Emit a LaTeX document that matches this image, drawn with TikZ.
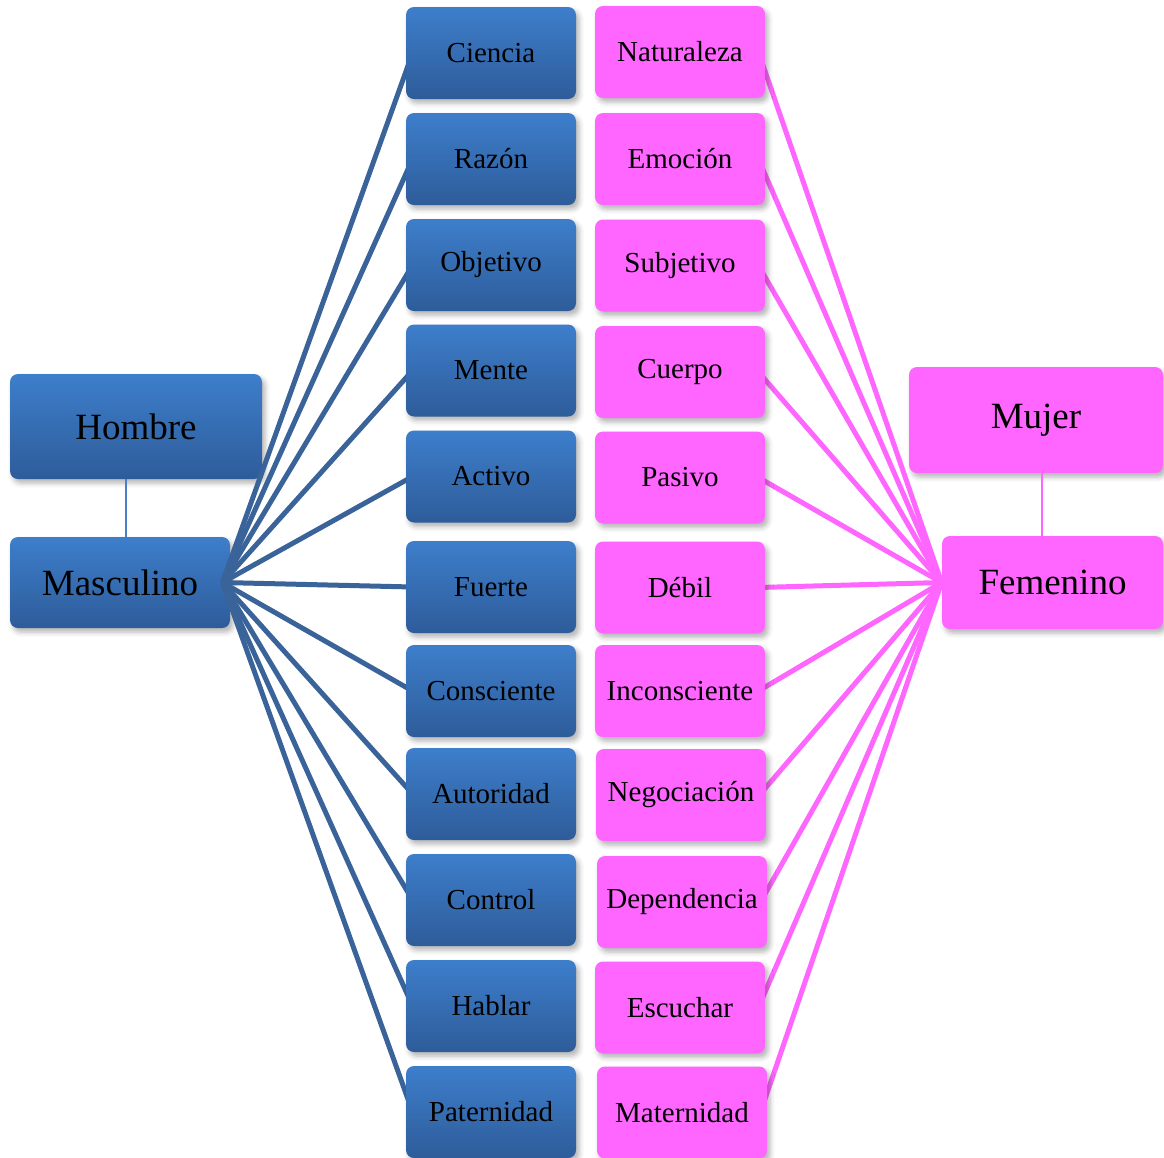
\documentclass[tikz,border=0pt]{standalone}
\usepackage{fontspec}
\setmainfont{Liberation Serif}
\usetikzlibrary{shadows.blur}
\definecolor{blueTop}{RGB}{61,126,203}
\definecolor{blueBot}{RGB}{46,92,154}
\definecolor{blueLine}{RGB}{58,100,153}
\definecolor{blueThin}{RGB}{74,126,198}
\definecolor{pinkBox}{RGB}{255,102,255}
\pgfdeclarelayer{front}
\pgfsetlayers{main,front}

\begin{document}
\begin{tikzpicture}[x=0.5pt,y=-0.5pt,
  box/.style={rounded corners=4pt,inner sep=0pt,text=black,
    blur shadow={shadow xshift=1.5pt,shadow yshift=-2pt,shadow blur radius=2.5pt,shadow opacity=30}},
  bluebox/.style={box,top color=blueTop,bottom color=blueBot},
  pinkbox/.style={box,fill=pinkBox},
  item/.style={minimum width=85pt,minimum height=46pt,font=\fontsize{14.5}{17}\selectfont},
  hub/.style={font=\fontsize{18.5}{22}\selectfont},
  blueline/.style={draw=blueLine,line width=2.5pt},
  pinkline/.style={draw=pinkBox,line width=2.5pt}]
\useasboundingbox (0,0) rectangle (1164,1158);
% left side
\node[bluebox,hub,minimum width=126pt,minimum height=52.5pt] (hombre) at (136,426.5) {Hombre};
\node[bluebox,hub,minimum width=110pt,minimum height=45.5pt] (masculino) at (120,582.5) {Masculino};
\draw[blueThin,line width=1pt] ([xshift=-5pt]hombre.south) -- ([xshift=-5pt]hombre.south |- masculino.north);
% right side
\node[pinkbox,hub,minimum width=127pt,minimum height=53pt] (mujer) at (1036,420) {Mujer};
\node[pinkbox,hub,minimum width=110.5pt,minimum height=46.5pt] (femenino) at (1052.5,582.5) {Femenino};
\draw[pinkBox,line width=1pt] ([xshift=3pt]mujer.south) -- ([xshift=3pt]mujer.south |- femenino.north);
\begin{pgfonlayer}{front}
\node[bluebox,item] (ciencia) at (491,53) {Ciencia};
\node[bluebox,item] (razon) at (491,159) {Razón};
\node[bluebox,item] (objetivo) at (491,265) {Objetivo};
\node[bluebox,item] (mente) at (491,370.5) {Mente};
\node[bluebox,item] (activo) at (491,476.5) {Activo};
\node[bluebox,item] (fuerte) at (491,587) {Fuerte};
\node[bluebox,item] (consciente) at (491,691) {Consciente};
\node[bluebox,item] (autoridad) at (491,794) {Autoridad};
\node[bluebox,item] (control) at (491,900) {Control};
\node[bluebox,item] (hablar) at (491,1006) {Hablar};
\node[bluebox,item] (paternidad) at (491,1112) {Paternidad};
\node[pinkbox,item] (naturaleza) at (680,52) {Naturaleza};
\node[pinkbox,item] (emocion) at (680,159) {Emoción};
\node[pinkbox,item] (subjetivo) at (680,265.5) {Subjetivo};
\node[pinkbox,item] (cuerpo) at (680,372) {Cuerpo};
\node[pinkbox,item] (pasivo) at (680,477.5) {Pasivo};
\node[pinkbox,item] (debil) at (680,587.5) {Débil};
\node[pinkbox,item] (inconsciente) at (680,691) {Inconsciente};
\node[pinkbox,item] (negociacion) at (681,795) {Negociación};
\node[pinkbox,item] (dependencia) at (682,902) {Dependencia};
\node[pinkbox,item] (escuchar) at (680,1007.5) {Escuchar};
\node[pinkbox,item] (maternidad) at (682,1112.5) {Maternidad};
\end{pgfonlayer}
% connectors
\draw[blueline] ([xshift=-4pt]masculino.east) -- ([xshift=3.5pt]ciencia.west);
\draw[blueline] ([xshift=-4pt]masculino.east) -- ([xshift=3.5pt]razon.west);
\draw[blueline] ([xshift=-4pt]masculino.east) -- ([xshift=3.5pt]objetivo.west);
\draw[blueline] ([xshift=-4pt]masculino.east) -- ([xshift=3.5pt]mente.west);
\draw[blueline] ([xshift=-4pt]masculino.east) -- ([xshift=3.5pt]activo.west);
\draw[blueline] ([xshift=-4pt]masculino.east) -- ([xshift=3.5pt]fuerte.west);
\draw[blueline] ([xshift=-4pt]masculino.east) -- ([xshift=3.5pt]consciente.west);
\draw[blueline] ([xshift=-4pt]masculino.east) -- ([xshift=3.5pt]autoridad.west);
\draw[blueline] ([xshift=-4pt]masculino.east) -- ([xshift=3.5pt]control.west);
\draw[blueline] ([xshift=-4pt]masculino.east) -- ([xshift=3.5pt]hablar.west);
\draw[blueline] ([xshift=-4pt]masculino.east) -- ([xshift=3.5pt]paternidad.west);
\draw[pinkline] (femenino.west) -- ([xshift=-3.5pt]naturaleza.east);
\draw[pinkline] (femenino.west) -- ([xshift=-3.5pt]emocion.east);
\draw[pinkline] (femenino.west) -- ([xshift=-3.5pt]subjetivo.east);
\draw[pinkline] (femenino.west) -- ([xshift=-3.5pt]cuerpo.east);
\draw[pinkline] (femenino.west) -- ([xshift=-3.5pt]pasivo.east);
\draw[pinkline] (femenino.west) -- ([xshift=-3.5pt]debil.east);
\draw[pinkline] (femenino.west) -- ([xshift=-3.5pt]inconsciente.east);
\draw[pinkline] (femenino.west) -- ([xshift=-3.5pt]negociacion.east);
\draw[pinkline] (femenino.west) -- ([xshift=-3.5pt]dependencia.east);
\draw[pinkline] (femenino.west) -- ([xshift=-3.5pt]escuchar.east);
\draw[pinkline] (femenino.west) -- ([xshift=-3.5pt]maternidad.east);
\end{tikzpicture}
\end{document}
